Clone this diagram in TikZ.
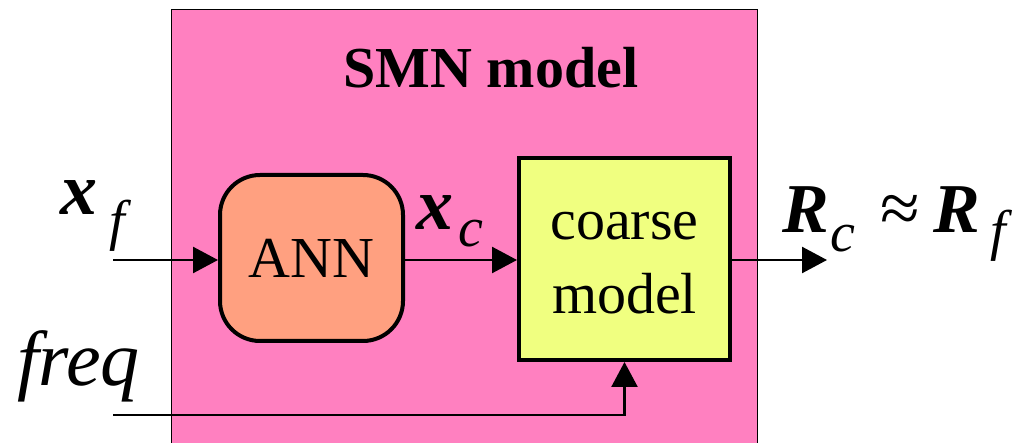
\documentclass[tikz,border=0pt]{standalone}
\usepackage{fontspec}
\setmainfont{Liberation Serif}
\usetikzlibrary{arrows.meta}
\definecolor{smnpink}{RGB}{255,128,192}
\definecolor{annfill}{RGB}{255,160,128}
\definecolor{coarsefill}{RGB}{240,255,128}
\tikzset{
  arr/.style={line width=2.5pt,-{Triangle[length=25pt,width=26pt]}},
  blockbox/.style={draw=black,line width=4pt,inner sep=0pt},
  bodytxt/.style={font=\fontsize{58}{70}\selectfont,inner sep=0pt},
  bigvar/.style={font=\fontsize{74}{80}\selectfont\bfseries\itshape,inner sep=0pt,anchor=base west},
  subvar/.style={font=\fontsize{56}{60}\selectfont\itshape,inner sep=0pt,anchor=base west},
}
\begin{document}
\begin{tikzpicture}[x=1pt,y=-1pt]
\useasboundingbox (0,0) rectangle (1020,443);
\fill[white] (0,0) rectangle (1020,443);
% outer SMN block
\node[draw=black,fill=smnpink,line width=0.8pt,minimum width=586pt,minimum height=460pt,anchor=north west,inner sep=0pt] (smn) at (171,9) {};
\node[bodytxt,font=\fontsize{58}{70}\selectfont\bfseries,anchor=base] (title) at (491,88) {SMN model};
% ANN block
\node[blockbox,fill=annfill,rounded corners=40pt,minimum width=183pt,minimum height=166pt,bodytxt] (ann) at (311.5,258) {ANN};
% coarse model block
\node[blockbox,fill=coarsefill,minimum width=211pt,minimum height=202pt] (coarse) at (624.5,259) {};
\node[bodytxt,anchor=base] (coarsetxt) at (624.5,240) {coarse};
\node[bodytxt,anchor=base] (modeltxt) at (624.5,314) {model};
% connectors
\coordinate (xin) at (113,260);
\coordinate (fin) at (113,415);
\coordinate (out) at (827,260);
\draw[arr] (xin) -- (xin -| ann.west);
\draw[arr] (xin -| ann.east) -- (xin -| coarse.west);
\draw[arr] (xin -| coarse.east) -- (out);
\draw[arr] (fin) -| (coarse.south);
% labels
\node[bigvar] (xf) at (60,215) {x};
\node[subvar] (xfsub) at (109,240) {f};
\node[font=\fontsize{78}{80}\selectfont\itshape,inner sep=0pt,anchor=base west] (freq) at (17,385) {freq};
\node[bigvar] (xc) at (416,230) {x};
\node[subvar] (xcsub) at (458,247) {c};
\node[bigvar,font=\fontsize{70}{80}\selectfont\bfseries\itshape] (rc) at (782,233) {R};
\node[subvar] (rcsub) at (830,252) {c};
\node[font=\fontsize{72}{80}\selectfont,inner sep=0pt,anchor=base west] (approx) at (880,233) {≈};
\node[bigvar,font=\fontsize{70}{80}\selectfont\bfseries\itshape] (rf) at (933,233) {R};
\node[subvar] (rfsub) at (990,250) {f};
\end{tikzpicture}
\end{document}
